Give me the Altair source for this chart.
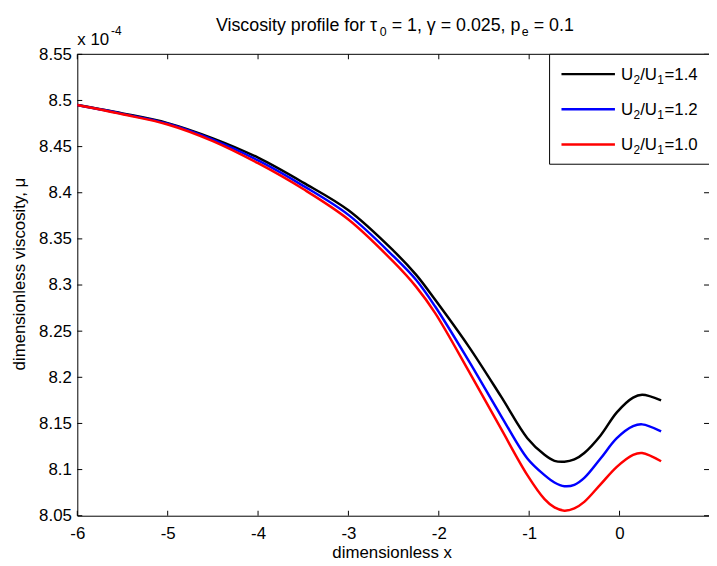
import altair as alt
import pandas as pd

# ---------------- data ----------------
x_vals = [-6.0, -5.5, -5.0, -4.5, -4.0, -3.5, -3.0, -2.5, -2.25, -2.04, -1.67,
          -1.31, -1.02, -0.83, -0.72, -0.61, -0.5, -0.39, -0.21, -0.03, 0.15, 0.25, 0.46]
mu_ratio_14 = [8.495, 8.486, 8.4755, 8.459, 8.438, 8.411, 8.381, 8.337, 8.311, 8.284, 8.2335,
               8.179, 8.134, 8.116, 8.1095, 8.1085, 8.111, 8.118, 8.137, 8.162, 8.178, 8.181, 8.175]
mu_ratio_12 = [8.495, 8.4855, 8.4748, 8.4575, 8.435, 8.4075, 8.376, 8.331, 8.3054, 8.2767, 8.218,
               8.158, 8.112, 8.094, 8.086, 8.082, 8.0835, 8.091, 8.112, 8.134, 8.147, 8.149, 8.1415]
mu_ratio_10 = [8.495, 8.485, 8.474, 8.456, 8.432, 8.404, 8.371, 8.325, 8.298, 8.2696, 8.207,
               8.144, 8.094, 8.068, 8.059, 8.0555, 8.058, 8.065, 8.084, 8.103, 8.116, 8.118, 8.109]

ratio_values = ["1.4", "1.2", "1.0"]
series_colors = ["#000000", "#0000ff", "#ff0000"]
series_values = [mu_ratio_14, mu_ratio_12, mu_ratio_10]

x_ticks = [-6, -5, -4, -3, -2, -1, 0]
y_ticks = [8.05, 8.10, 8.15, 8.20, 8.25, 8.30, 8.35, 8.40, 8.45, 8.50, 8.55]

x_title = "dimensionless x"
y_title = "dimensionless viscosity, \u03bc"

# ---------------- layout ----------------
W, H = 638, 466
FONT = "Liberation Sans"
FS = 17
SUB = 12
TFS = 18
TSUB = 12.5

xs = alt.X("x:Q",
           scale=alt.Scale(domain=[-6, 0.99], nice=False, zero=False),
           axis=alt.Axis(values=x_ticks, labelExpr="'' + datum.value", title=None,
                         labelPadding=10, labelFlush=False, labelOverlap=False,
                         ticks=False, grid=False, domainColor="black", domainWidth=1))
ys = alt.Y("mu:Q",
           scale=alt.Scale(domain=[8.05, 8.55], nice=False, zero=False),
           axis=alt.Axis(values=y_ticks, labelExpr="format(datum.value, '.2~f')", title=None,
                         labelPadding=6, labelFlush=False, labelOverlap=False,
                         ticks=False, grid=False, domainColor="black", domainWidth=1))

one = pd.DataFrame({"a": [0]})
layers = []


def txt(s, x, y, size=FS, align="left", baseline="alphabetic", angle=0):
    kw = dict(text=s, align=align, baseline=baseline, font=FONT, fontSize=size, color="black")
    if angle:
        kw["angle"] = angle
    return alt.Chart(one).mark_text(**kw).encode(x=alt.value(x), y=alt.value(y))


for vals, col in zip(series_values, series_colors):
    d = pd.DataFrame({"x": x_vals, "mu": vals})
    layers.append(alt.Chart(d).mark_line(color=col, strokeWidth=2.5, interpolate="catmull-rom")
                  .encode(x=xs, y=ys))

# inward ticks (MATLAB style) on all sides
xt = pd.DataFrame({"x": x_ticks})
yt = pd.DataFrame({"mu": y_ticks})
layers.append(alt.Chart(xt).mark_rule(color="black", strokeWidth=1)
              .encode(x="x:Q", y=alt.value(H), y2=alt.value(H - 5)))
layers.append(alt.Chart(xt).mark_rule(color="black", strokeWidth=1)
              .encode(x="x:Q", y=alt.value(0), y2=alt.value(5)))
layers.append(alt.Chart(yt).mark_rule(color="black", strokeWidth=1)
              .encode(y="mu:Q", x=alt.value(0), x2=alt.value(5)))
layers.append(alt.Chart(yt).mark_rule(color="black", strokeWidth=1)
              .encode(y="mu:Q", x=alt.value(W - 5), x2=alt.value(W)))
# top border
layers.append(alt.Chart(one).mark_rule(color="black", strokeWidth=1)
              .encode(x=alt.value(0), x2=alt.value(W), y=alt.value(0)))

# legend box
layers.append(alt.Chart(one).mark_rect(fill="white", stroke="black", strokeWidth=1)
              .encode(x=alt.value(477), x2=alt.value(W + 40), y=alt.value(0), y2=alt.value(111)))
for i, (rv, col) in enumerate(zip(ratio_values, series_colors)):
    yy = 20 + 35.5 * i
    layers.append(alt.Chart(one).mark_rule(color=col, strokeWidth=2.5)
                  .encode(x=alt.value(489), x2=alt.value(543), y=alt.value(yy)))
    base = yy + 6
    x0 = 549
    layers.append(txt("U", x0, base))
    layers.append(txt("2", x0 + 12.8, base + 4, SUB))
    layers.append(txt("/U", x0 + 19.5, base))
    layers.append(txt("1", x0 + 36.8, base + 4, SUB))
    layers.append(txt("=" + rv, x0 + 44, base))

# title built from pieces (TeX-like subscripts)
ty = -24
tx = 140
layers.append(txt("Viscosity profile for \u03c4", tx, ty, TFS))
layers.append(txt("0", tx + 165.5, ty + 5, TSUB))
layers.append(txt("= 1, \u03b3 = 0.025, p", tx + 177.5, ty, TFS))
layers.append(txt("e", tx + 309, ty + 5, TSUB))
layers.append(txt("= 0.1", tx + 321, ty, TFS))

# axis titles
layers.append(txt(x_title, 318, 509, align="center"))
layers.append(txt(y_title, -58, 222, align="center", baseline="middle", angle=270))
# exponent label
layers.append(txt("x 10", 0, -9))
layers.append(txt("-4", 34, -20, SUB))

chart = (alt.layer(*layers)
         .properties(width=W, height=H,
                     autosize=alt.AutoSizeParams(type="none"),
                     padding={"left": 70, "top": 44, "right": 0, "bottom": 48})
         .configure_view(stroke=None)
         .configure_axis(labelFont=FONT, labelFontSize=FS, labelColor="black"))

chart.save("out.html", embed_options={"renderer": "svg", "actions": False})
